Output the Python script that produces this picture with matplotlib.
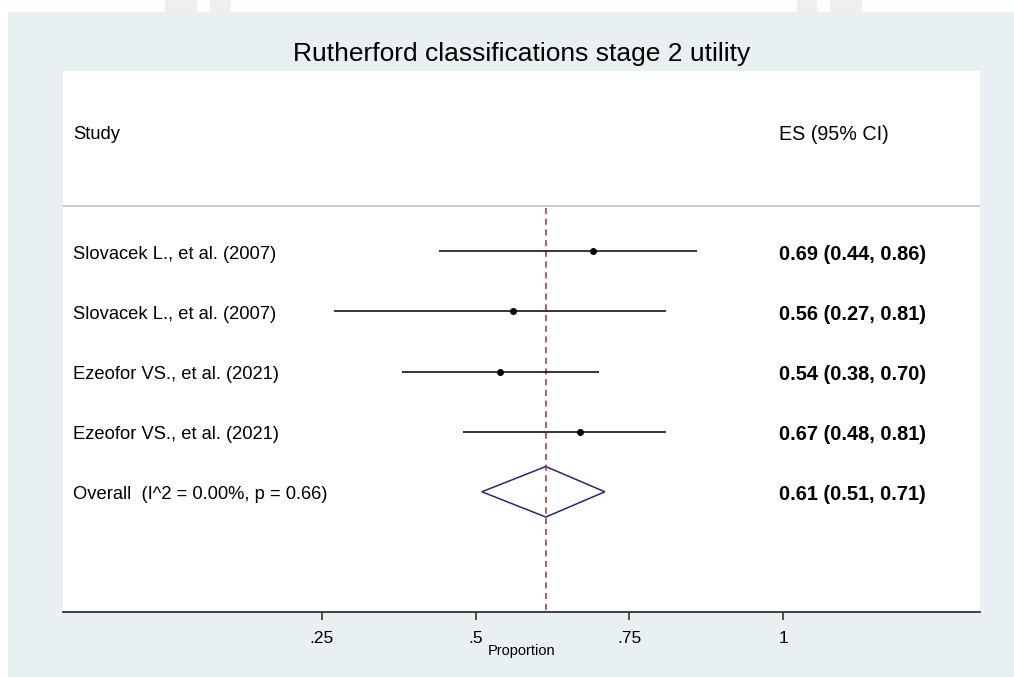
import matplotlib
matplotlib.use("Agg")
import matplotlib.pyplot as plt
from matplotlib.patches import Rectangle, Polygon
import matplotlib.transforms as mtransforms

plt.rcParams['font.family'] = ['Liberation Sans', 'DejaVu Sans']

title = "Rutherford classifications stage 2 utility"
studies = ["Slovacek L., et al. (2007)", "Slovacek L., et al. (2007)",
           "Ezeofor VS., et al. (2021)", "Ezeofor VS., et al. (2021)"]
es = [0.69, 0.56, 0.54, 0.67]
lo = [0.44, 0.27, 0.38, 0.48]
hi = [0.86, 0.81, 0.70, 0.81]
overall_label = "Overall  (I^2 = 0.00%, p = 0.66)"
overall = [0.614, 0.51, 0.71]
ticks = [0.25, 0.5, 0.75, 1.0]
tick_labels = [".25", ".5", ".75", "1"]

W, H = 1014, 677
fig = plt.figure(figsize=(W / 100, H / 100), dpi=100, facecolor="white")

# light panel behind the graph
fig.patches.append(Rectangle((8 / W, 0), 1 - 8 / W, 1 - 12 / H, transform=fig.transFigure,
                             facecolor="#e8f0f2", edgecolor="none", zorder=-2))
# faint watermark bits at the top
for x0, x1 in [(165, 197), (210, 231), (797, 817), (830, 862)]:
    fig.patches.append(Rectangle((x0 / W, 1 - 12 / H), (x1 - x0) / W, 12 / H,
                                 transform=fig.transFigure, facecolor="#efefef",
                                 edgecolor="none", zorder=-2))

ax = fig.add_axes([63 / W, 1 - 612 / H, (980 - 63) / W, (612 - 71) / H])
ax.set_zorder(1)
ax.set_facecolor("white")
for s in ["top", "left", "right"]:
    ax.spines[s].set_visible(False)
ax.spines["bottom"].set_color("#333333")
ax.spines["bottom"].set_linewidth(1.3)

ax.set_xlim(-0.171, 1.320)
ax.set_ylim(6, -3)
ax.set_yticks([])
ax.set_xticks(ticks)
ax.set_xticklabels(tick_labels, fontsize=12.5)
ax.tick_params(axis="x", length=6, width=1.2, color="#333333", pad=8)

rows = list(range(len(studies)))
ax.axhline(-0.75, color="#c4c4c4", lw=1.2)
ax.vlines(overall[0], -0.72, 6, colors="#a03030", linestyles=(0, (4, 3)), lw=1.1)

ax.hlines(rows, lo, hi, colors="black", lw=1.1)
ax.plot(es, rows, "o", color="black", markersize=4)

yo = len(studies)
diamond = Polygon([(overall[1], yo), (overall[0], yo - 0.42), (overall[2], yo),
                   (overall[0], yo + 0.42)], closed=True, fill=False,
                  edgecolor="#1f2a80", lw=1.1)
ax.add_patch(diamond)

fs = 13.2
fs_es = 14.4
dy = 0.05
trans = mtransforms.blended_transform_factory(ax.transAxes, ax.transData)
ax.text(0.0109, -2 + dy, "Study", transform=trans, fontsize=fs, va="center")
ax.text(0.781, -2 + dy, "ES (95% CI)", transform=trans, fontsize=14.2, va="center")
for r, name, e, l, h in zip(rows, studies, es, lo, hi):
    ax.text(0.0109, r + dy, name, transform=trans, fontsize=fs, va="center")
    ax.text(0.781, r + dy, f"{e:.2f} ({l:.2f}, {h:.2f})", transform=trans, fontsize=fs_es,
            va="center", fontweight="bold")
ax.text(0.0109, yo + dy, overall_label, transform=trans, fontsize=fs, va="center")
ax.text(0.781, yo + dy, f"{overall[0]:.2f} ({overall[1]:.2f}, {overall[2]:.2f})",
        transform=trans, fontsize=fs_es, va="center", fontweight="bold")

fig.text(522 / W, 1 - 54 / H, title, fontsize=19, ha="center", va="center")
fig.text(522 / W, 1 - 651 / H, "Proportion", fontsize=10.5, ha="center", va="center")

fig.savefig("out.png", dpi=100, facecolor=fig.get_facecolor())
